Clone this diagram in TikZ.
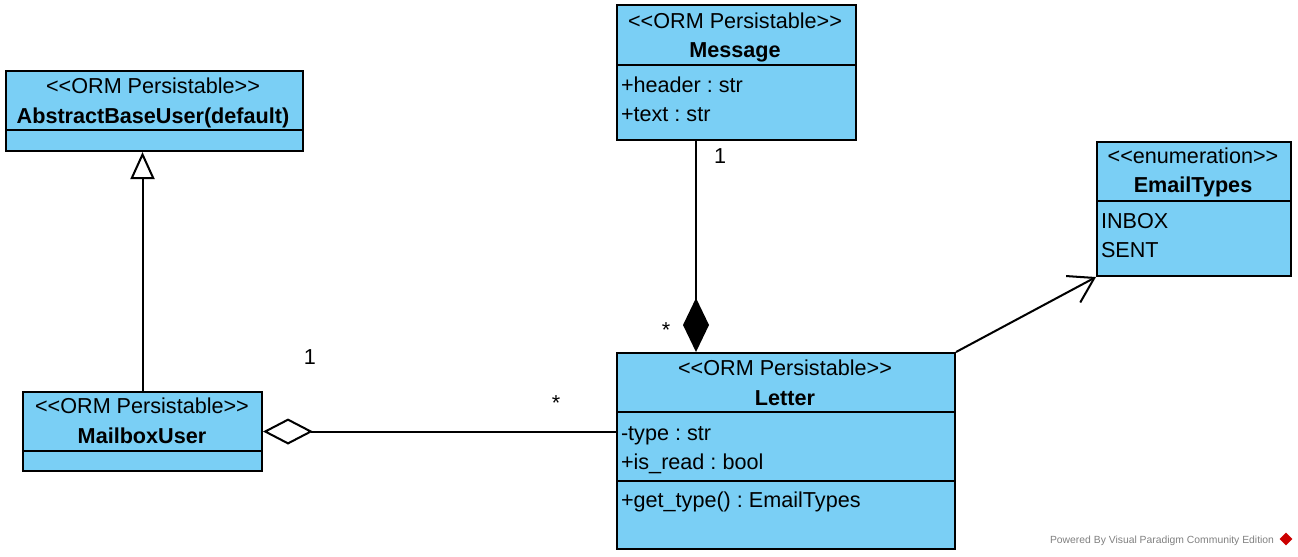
\documentclass[tikz,border=0pt]{standalone}
\usepackage{fontspec}
\setmainfont{Liberation Sans}
\usetikzlibrary{arrows.meta,calc}
\definecolor{classblue}{RGB}{122,207,245}
\newcommand{\pxl}{0.02cm}
\newcommand{\stereo}[1]{\textless\kern0pt\textless #1\textgreater\kern0pt\textgreater}
\frenchspacing

\begin{document}
\begin{tikzpicture}[x=0.02cm, y=-0.02cm, line width=1.15pt,
    classbox/.style={draw=black, fill=classblue, inner sep=0pt, anchor=north west},
    txt/.style={inner sep=0pt, font=\fontsize{12.3}{14}\selectfont},
    ctxt/.style={txt, anchor=base},
    ltxt/.style={txt, anchor=base west},
    bld/.style={ctxt, font=\fontsize{12.3}{14}\selectfont\bfseries}]
  \useasboundingbox (0,0) rectangle (1298,556);

  % classes
  \node[classbox, minimum width=297*\pxl, minimum height=80*\pxl] (abu) at (5,70) {};
  \draw ($(abu.north west)+(0,60)$) -- ($(abu.north east)+(0,60)$);
  \node[ctxt] (abuS) at (153,93) {\stereo{ORM Persistable}};
  \node[bld] (abuN) at (153,123) {AbstractBaseUser(default)};

  \node[classbox, minimum width=239*\pxl, minimum height=135*\pxl] (msg) at (616,4) {};
  \draw ($(msg.north west)+(0,61)$) -- ($(msg.north east)+(0,61)$);
  \node[ctxt] (msgS) at (735,28) {\stereo{ORM Persistable}};
  \node[bld] (msgN) at (735,57) {Message};
  \node[ltxt] (msgA1) at (620,92) {+header : str};
  \node[ltxt] (msgA2) at (620,121) {+text : str};

  \node[classbox, minimum width=194*\pxl, minimum height=134*\pxl] (enum) at (1096,141) {};
  \draw ($(enum.north west)+(0,60)$) -- ($(enum.north east)+(0,60)$);
  \node[ctxt] (enumS) at (1193,163) {\stereo{enumeration}};
  \node[bld] (enumN) at (1193,192) {EmailTypes};
  \node[ltxt] (enumA1) at (1100,228) {INBOX};
  \node[ltxt] (enumA2) at (1100,257) {SENT};

  \node[classbox, minimum width=338*\pxl, minimum height=196*\pxl] (letter) at (616,352) {};
  \draw ($(letter.north west)+(0,60)$) -- ($(letter.north east)+(0,60)$);
  \draw ($(letter.north west)+(0,129)$) -- ($(letter.north east)+(0,129)$);
  \node[ctxt] (letterS) at (785,375) {\stereo{ORM Persistable}};
  \node[bld] (letterN) at (785,405) {Letter};
  \node[ltxt] (letterA1) at (620,440) {-type : str};
  \node[ltxt] (letterA2) at (620,469) {+is\_read : bool};
  \node[ltxt] (letterO1) at (620,507) {+get\_type() : EmailTypes};

  \node[classbox, minimum width=239*\pxl, minimum height=79*\pxl] (mbu) at (22,391) {};
  \draw ($(mbu.north west)+(0,60)$) -- ($(mbu.north east)+(0,60)$);
  \node[ctxt] (mbuS) at (142,413) {\stereo{ORM Persistable}};
  \node[bld] (mbuN) at (142,443) {MailboxUser};

  % relations
  \draw[-{Triangle[open, length=27*\pxl, width=24*\pxl]}] (mbu.north) -- (mbu.north |- abu.south);
  \draw[{Diamond[open, length=50*\pxl, width=26*\pxl]}-] (mbu.east) -- (mbu.east -| letter.west);
  \coordinate (stem) at ($(msg.south west)+(80,0)$);
  \draw[{Diamond[length=54*\pxl, width=26*\pxl]}-] (stem |- letter.north) -- (stem);
  \draw[-{Straight Barb[length=24*\pxl, width=30*\pxl]}] (letter.north east) -- (enum.south west);

  % multiplicities
  \node[ctxt] (m1) at (310,364) {1};
  \node[ctxt] (m2) at (556,410) {*};
  \node[ctxt] (m3) at (720,163) {1};
  \node[ctxt] (m4) at (666,337) {*};

  \node[inner sep=0pt, anchor=base east, text=gray, font=\fontsize{5.9}{6}\selectfont] (powered) at (1275,543) {Powered By Visual Paradigm Community Edition};
  \node[fill=red!80!black, rotate=45, inner sep=0pt, minimum size=9*\pxl] (logo) at (1286,539) {};
\end{tikzpicture}
\end{document}
